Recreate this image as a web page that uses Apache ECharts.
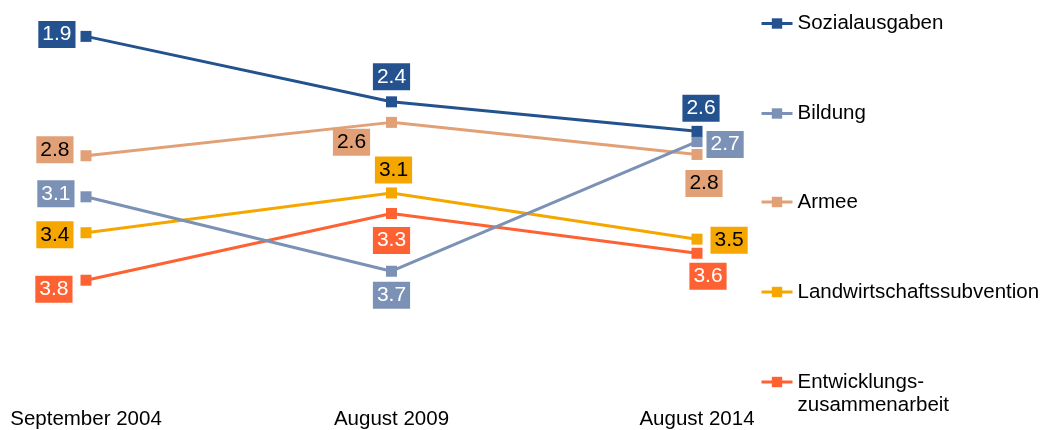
<!DOCTYPE html>
<html>
<head>
<meta charset="utf-8">
<script src="https://cdn.jsdelivr.net/npm/echarts@6/dist/echarts.min.js"></script>
<style>
  html, body { margin: 0; padding: 0; background: #fff; }
  #main { width: 1041px; height: 430px; }
</style>
</head>
<body>
<div id="main"></div>
<script>
// data (labels show one decimal)
const categories = ["September 2004", "August 2009", "August 2014"];
const seriesNames = ["Sozialausgaben", "Bildung", "Armee", "Landwirtschaftssubvention", "Entwicklungs-\nzusammenarbeit"];
const sozialausgaben = [1.89, 2.40, 2.63];
const bildung = [3.14, 3.72, 2.71];
const armee = [2.82, 2.56, 2.81];
const landwirtschaft = [3.42, 3.11, 3.47];
const entwicklung = [3.79, 3.27, 3.58];

const FONT = "Liberation Sans, Arial, sans-serif";
const colors = ["#24528e", "#7b91b5", "#e2a077", "#f5a700", "#fe6132"];
const labelText = ["#fff", "#fff", "#000", "#000", "#fff"];

// where each data label sits around its point
const placement = [
  [{ position: "left", distance: 5, offset: [0, -2] }, { position: "top", distance: 6 }, { position: "top", distance: 4, offset: [4, 0] }],
  [{ position: "left", distance: 6, offset: [0, -3] }, { position: "bottom", distance: 5 }, { position: "right", distance: 4, offset: [0, 3] }],
  [{ position: "left", distance: 7, offset: [0, -6] }, { position: "bottom", distance: 5, offset: [-40, -4] }, { position: "bottom", distance: 10, offset: [7, 0] }],
  [{ position: "left", distance: 7, offset: [0, 2] }, { position: "top", distance: 4, offset: [2, 0] }, { position: "right", distance: 8, offset: [0, 1] }],
  [{ position: "left", distance: 8, offset: [0, 9] }, { position: "bottom", distance: 8 }, { position: "bottom", distance: 4, offset: [11, 0] }],
];

const values = [sozialausgaben, bildung, armee, landwirtschaft, entwicklung];

const series = values.map((vals, i) => ({
  name: seriesNames[i],
  type: "line",
  symbol: "rect",
  symbolSize: 11,
  z: 10 - i,
  lineStyle: { width: 3, color: colors[i] },
  itemStyle: { color: colors[i] },
  label: {
    show: true,
    formatter: (p) => p.value.toFixed(1),
    fontFamily: FONT,
    fontSize: 21,
    lineHeight: 21,
    color: labelText[i],
    backgroundColor: colors[i],
    padding: [3, 4, 3, 4],
  },
  emphasis: { disabled: true },
  data: vals.map((v, j) => ({ value: v, label: placement[i][j] })),
}));

const legendTops = [12, 102, 190.5, 280.5, 347.5];
const legend = seriesNames.map((n, i) => ({
  data: [n],
  left: 760,
  top: legendTops[i],
  orient: "vertical",
  padding: 0,
  itemWidth: 31,
  itemHeight: 13,
  itemGap: 0,
  selectedMode: false,
  lineStyle: { width: 3 },
  // the two-line name keeps its icon on the first line
  formatter: i === 4 ? (name) => "\n" + name : "{name}",
  textStyle: {
    fontFamily: FONT,
    fontSize: 20.5,
    lineHeight: 23,
    color: "#000",
  },
}));

const chart = echarts.init(document.getElementById("main"), null, { renderer: "canvas" });
chart.setOption({
  animation: false,
  color: colors,
  grid: { left: 86, right: 344, top: 12, height: 388 },
  legend: legend,
  xAxis: {
    type: "category",
    data: categories,
    boundaryGap: false,
    axisLine: { show: false },
    axisTick: { show: false },
    splitLine: { show: false },
    axisLabel: { fontFamily: FONT, fontSize: 20.5, color: "#000", margin: 12 },
  },
  yAxis: {
    type: "value",
    inverse: true,
    min: 1.7,
    max: 4.7,
    show: false,
  },
  series: series,
});
</script>
</body>
</html>
